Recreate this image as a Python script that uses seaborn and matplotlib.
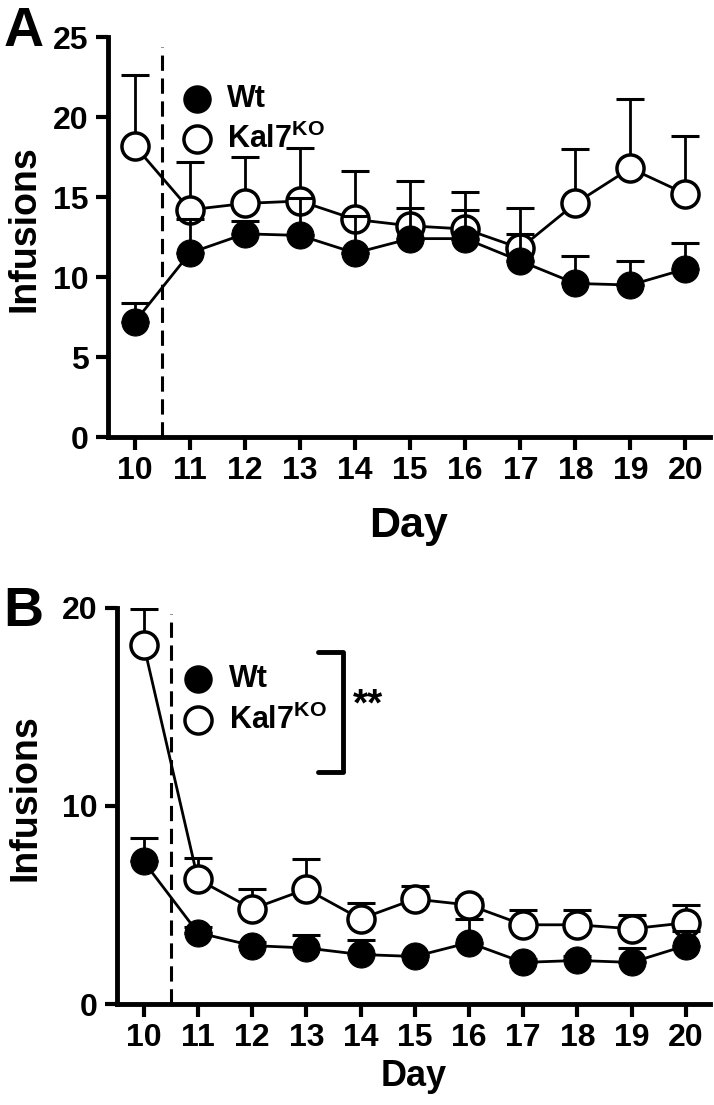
import numpy as np
import pandas as pd
import matplotlib
matplotlib.use("Agg")
import matplotlib.pyplot as plt
import seaborn as sns

# data
days = [10, 11, 12, 13, 14, 15, 16, 17, 18, 19, 20]

# Panel A
a_wt = [7.2, 11.5, 12.7, 12.6, 11.5, 12.4, 12.4, 11.0, 9.6, 9.5, 10.5]
a_wt_err = [1.15, 2.1, 0.8, 2.35, 2.3, 1.9, 1.8, 1.7, 1.7, 1.5, 1.6]
a_ko = [18.2, 14.2, 14.6, 14.75, 13.6, 13.2, 13.0, 11.8, 14.6, 16.8, 15.2]
a_ko_err = [4.45, 3.0, 2.9, 3.3, 3.0, 2.8, 2.3, 2.5, 3.4, 4.3, 3.6]

# Panel B
b_wt = [7.2, 3.6, 2.95, 2.83, 2.5, 2.4, 3.1, 2.1, 2.2, 2.1, 2.95]
b_wt_err = [1.2, 0.3, 0.2, 0.65, 0.75, 0.15, 1.2, 0.15, 0.2, 0.75, 0.75]
b_ko = [18.15, 6.3, 4.8, 5.8, 4.3, 5.3, 5.0, 4.0, 4.0, 3.8, 4.1]
b_ko_err = [1.8, 1.05, 1.0, 1.5, 0.8, 0.65, 0.3, 0.75, 0.75, 0.7, 0.9]

sns.set_style("ticks")
plt.rcParams["font.family"] = ["Liberation Sans", "DejaVu Sans"]
plt.rcParams["font.weight"] = "bold"
plt.rcParams["mathtext.fontset"] = "custom"
plt.rcParams["mathtext.rm"] = "Liberation Sans:bold"
plt.rcParams["mathtext.bf"] = "Liberation Sans:bold"
for k in ["text.color", "axes.labelcolor", "xtick.color", "ytick.color", "axes.edgecolor"]:
    plt.rcParams[k] = "black"

fig = plt.figure(figsize=(7.14, 11.05), dpi=100)
axA = fig.add_axes([0.151, 0.6045, 0.843, 0.362])
axB = fig.add_axes([0.164, 0.0914, 0.830, 0.3584])

ms = 19.5


def draw_panel(ax, wt, wt_err, ko, ko_err, ymax, yticks, dash_top, tick_fs, lab_fs, ylab_x, xpad):
    zeros = np.zeros(len(days))
    # KO first, Wt on top
    ax.errorbar(days, ko, yerr=[zeros, ko_err], fmt="none", ecolor="black",
                elinewidth=2, capsize=10, capthick=2.2, zorder=2)
    sns.lineplot(x=days, y=ko, ax=ax, color="black", lw=2, marker="o",
                 markersize=ms, markerfacecolor="white", markeredgecolor="black",
                 markeredgewidth=2.5, zorder=3)
    ax.errorbar(days, wt, yerr=[zeros, wt_err], fmt="none", ecolor="black",
                elinewidth=2, capsize=10, capthick=2.2, zorder=4)
    sns.lineplot(x=days, y=wt, ax=ax, color="black", lw=2, marker="o",
                 markersize=ms, markerfacecolor="black", markeredgecolor="black",
                 zorder=5)
    ax.plot([10.5, 10.5], [0, dash_top], color="black", lw=2.2, ls=(0, (5, 2.5)), zorder=1)
    ax.set_xlim(9.51, 20.44)
    ax.set_ylim(0, ymax)
    ax.set_xticks(days)
    ax.set_yticks(yticks)
    ax.tick_params(axis="both", width=3, length=9, labelsize=tick_fs, direction="out", pad=5)
    for lab in ax.get_xticklabels() + ax.get_yticklabels():
        lab.set_fontweight("bold")
    for s in ["left", "bottom"]:
        ax.spines[s].set_linewidth(3.5)
    sns.despine(ax=ax)
    ax.set_xlabel("Day", fontsize=lab_fs, fontweight="bold", labelpad=xpad)
    ax.set_ylabel("Infusions", fontsize=27, fontweight="bold")
    ax.yaxis.set_label_coords(ylab_x, 0.52)


def legend(ax, x, ytop, ybot, xt):
    ax.plot([x], [ytop], "o", ms=ms, mfc="black", mec="black", clip_on=False)
    ax.plot([x], [ybot], "o", ms=ms, mfc="white", mec="black", mew=2.5, clip_on=False)
    ax.text(xt, ytop, "Wt", fontsize=22, fontweight="bold", va="center")
    ax.text(xt, ybot, "Kal7$^{\\mathrm{KO}}$", fontsize=22, fontweight="bold", va="center")


draw_panel(axA, a_wt, a_wt_err, a_ko, a_ko_err, 25, [0, 5, 10, 15, 20, 25], 24.4, 23, 31, -0.108, 14)
legend(axA, 11.13, 21.1, 18.6, 11.67)

draw_panel(axB, b_wt, b_wt_err, b_ko, b_ko_err, 20, [0, 10, 20], 19.7, 23, 26, -0.125, 4)
legend(axB, 11.0, 16.4, 14.35, 11.57)
axB.plot([13.22, 13.68, 13.68, 13.22], [17.8, 17.8, 11.7, 11.7], color="black", lw=3.5)
axB.text(13.85, 15.1, "**", fontsize=28, fontweight="bold", va="center")

fig.text(0.005, 0.995, "A", fontsize=40, fontweight="bold", va="top", ha="left")
fig.text(0.005, 0.47, "B", fontsize=40, fontweight="bold", va="top", ha="left")

fig.savefig("out.png", dpi=100)
